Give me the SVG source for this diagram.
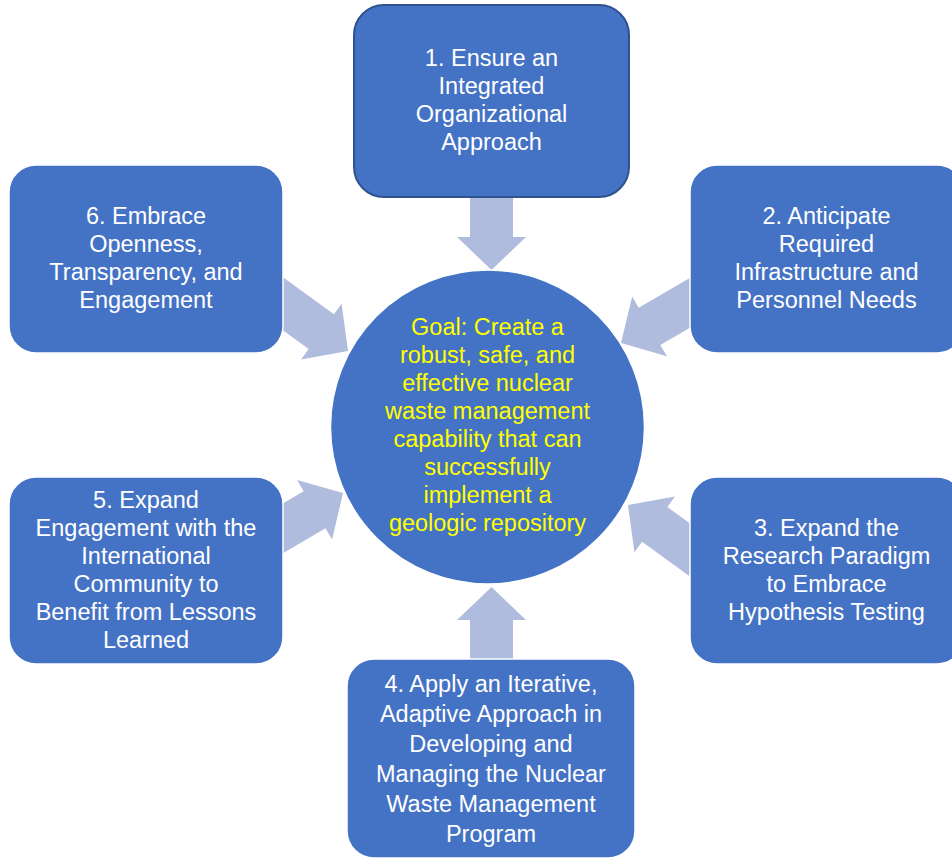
<svg xmlns="http://www.w3.org/2000/svg" xmlns:xlink="http://www.w3.org/1999/xlink" width="952" height="860" viewBox="0 0 952 860">
  <style>
    .box { fill: #4472C4; stroke: #ffffff; stroke-width: 1.5; }
    .box1 { fill: #4472C4; stroke: #2F528F; stroke-width: 2; }
    .goal { fill: #4472C4; stroke: #ffffff; stroke-width: 1.5; }
    .arrow { fill: #B0BCDD; }
    text { font-family: "Liberation Sans", Arial, sans-serif; font-size: 23.5px; text-anchor: middle; }
    .lbl { fill: #ffffff; }
    .goaltext { fill: #FFFF00; }
  </style>
  <defs>
    <path id="arr" d="M0,0 L-33,-34.5 L-33,-21.5 L-110,-21.5 L-110,21.5 L-33,21.5 L-33,34.5 Z"/>
  </defs>
  <rect x="0" y="0" width="952" height="860" fill="#ffffff"/>

  <g id="connectors">
    <use xlink:href="#arr" href="#arr" class="arrow" transform="translate(491.5,270) rotate(90)"/>
    <use xlink:href="#arr" href="#arr" class="arrow" transform="translate(491.5,587) rotate(-90)"/>
    <use xlink:href="#arr" href="#arr" class="arrow" transform="translate(348,351) rotate(36)"/>
    <use xlink:href="#arr" href="#arr" class="arrow" transform="translate(343,493) rotate(-30.5)"/>
    <use xlink:href="#arr" href="#arr" class="arrow" transform="translate(621,343) rotate(149.8)"/>
    <use xlink:href="#arr" href="#arr" class="arrow" transform="translate(628,505) rotate(216)"/>
  </g>

  <g id="goal">
    <circle class="goal" cx="487.5" cy="427" r="157"/>
    <text class="goaltext" x="487.5" y="335">Goal: Create a</text>
    <text class="goaltext" x="487.5" y="363">robust, safe, and</text>
    <text class="goaltext" x="487.5" y="391">effective nuclear</text>
    <text class="goaltext" x="487.5" y="419">waste management</text>
    <text class="goaltext" x="487.5" y="447">capability that can</text>
    <text class="goaltext" x="487.5" y="475">successfully</text>
    <text class="goaltext" x="487.5" y="503">implement a</text>
    <text class="goaltext" x="487.5" y="531">geologic repository</text>
  </g>

  <g id="node1">
    <rect class="box1" x="354" y="5" width="275" height="192" rx="30" ry="30"/>
    <text class="lbl" x="491.5" y="66">1. Ensure an</text>
    <text class="lbl" x="491.5" y="94">Integrated</text>
    <text class="lbl" x="491.5" y="122">Organizational</text>
    <text class="lbl" x="491.5" y="150">Approach</text>
  </g>

  <g id="node2">
    <rect class="box" x="690" y="165" width="274" height="188" rx="27" ry="27"/>
    <text class="lbl" x="826.5" y="224">2. Anticipate</text>
    <text class="lbl" x="826.5" y="252">Required</text>
    <text class="lbl" x="826.5" y="280">Infrastructure and</text>
    <text class="lbl" x="826.5" y="308">Personnel Needs</text>
  </g>

  <g id="node3">
    <rect class="box" x="690" y="477" width="274" height="187" rx="27" ry="27"/>
    <text class="lbl" x="826.5" y="536">3. Expand the</text>
    <text class="lbl" x="826.5" y="564">Research Paradigm</text>
    <text class="lbl" x="826.5" y="592">to Embrace</text>
    <text class="lbl" x="826.5" y="620">Hypothesis Testing</text>
  </g>

  <g id="node4">
    <rect class="box" x="347" y="659" width="288" height="199" rx="27" ry="27"/>
    <text class="lbl" x="491" y="692">4. Apply an Iterative,</text>
    <text class="lbl" x="491" y="722">Adaptive Approach in</text>
    <text class="lbl" x="491" y="752">Developing and</text>
    <text class="lbl" x="491" y="782">Managing the Nuclear</text>
    <text class="lbl" x="491" y="812">Waste Management</text>
    <text class="lbl" x="491" y="842">Program</text>
  </g>

  <g id="node5">
    <rect class="box" x="9" y="477" width="274" height="187" rx="27" ry="27"/>
    <text class="lbl" x="146" y="508">5. Expand</text>
    <text class="lbl" x="146" y="536">Engagement with the</text>
    <text class="lbl" x="146" y="564">International</text>
    <text class="lbl" x="146" y="592">Community to</text>
    <text class="lbl" x="146" y="620">Benefit from Lessons</text>
    <text class="lbl" x="146" y="648">Learned</text>
  </g>

  <g id="node6">
    <rect class="box" x="9" y="165" width="274" height="188" rx="27" ry="27"/>
    <text class="lbl" x="146" y="224">6. Embrace</text>
    <text class="lbl" x="146" y="252">Openness,</text>
    <text class="lbl" x="146" y="280">Transparency, and</text>
    <text class="lbl" x="146" y="308">Engagement</text>
  </g>
</svg>
